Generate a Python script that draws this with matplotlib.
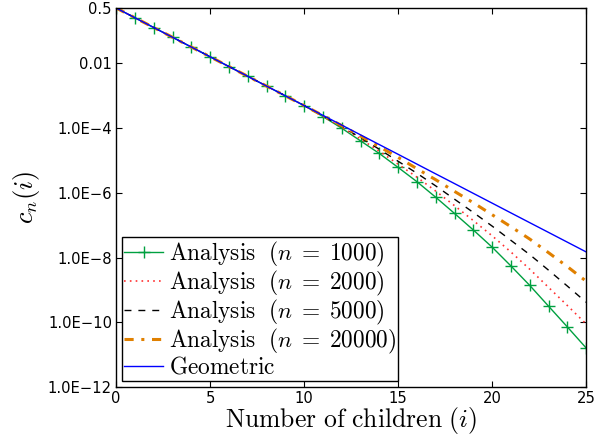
import numpy as np
import matplotlib
matplotlib.use("Agg")
import matplotlib.pyplot as plt

plt.rcParams['mathtext.fontset'] = 'cm'

children = list(range(26))

geometric = [0.5, 0.25, 0.125, 0.0625, 0.03125, 0.015625, 7.81e-3, 3.91e-3,
             1.95e-3, 9.77e-4, 4.88e-4, 2.44e-4, 1.22e-4, 6.10e-5, 3.05e-5,
             1.53e-5, 7.63e-6, 3.81e-6, 1.91e-6, 9.54e-7, 4.77e-7, 2.38e-7,
             1.19e-7, 5.96e-8, 2.98e-8, 1.49e-8]

# log10 values
log_n1000 = [-0.301, -0.602, -0.903, -1.204, -1.505, -1.806, -2.107, -2.408,
             -2.709, -3.010, -3.311, -3.65, -4.01, -4.40, -4.79, -5.22, -5.66,
             -6.14, -6.64, -7.15, -7.68, -8.26, -8.86, -9.50, -10.14, -10.79]
log_n2000 = [-0.301, -0.602, -0.903, -1.204, -1.505, -1.806, -2.107, -2.408,
             -2.709, -3.010, -3.311, -3.64, -3.98, -4.34, -4.72, -5.12, -5.52,
             -5.95, -6.40, -6.86, -7.33, -7.83, -8.36, -8.92, -9.48, -10.05]
log_n5000 = [-0.301, -0.602, -0.903, -1.204, -1.505, -1.806, -2.107, -2.408,
             -2.709, -3.010, -3.311, -3.63, -3.96, -4.30, -4.66, -5.03, -5.40,
             -5.79, -6.20, -6.61, -7.03, -7.47, -7.91, -8.39, -8.88, -9.38]
log_n20000 = [-0.301, -0.602, -0.903, -1.204, -1.505, -1.806, -2.107, -2.408,
              -2.709, -3.010, -3.311, -3.62, -3.93, -4.25, -4.58, -4.91, -5.26,
              -5.60, -5.96, -6.31, -6.68, -7.05, -7.43, -7.85, -8.28, -8.73]

ytick_vals = [1e-12, 1e-10, 1e-8, 1e-6, 1e-4, 1e-2, 0.5]
ytick_labels = ["1.0E\u221212", "1.0E\u221210", "1.0E\u22128", "1.0E\u22126",
                "1.0E\u22124", "0.01", "0.5"]
xtick_vals = [0, 5, 10, 15, 20, 25]

fig = plt.figure(figsize=(6.08, 4.45), dpi=100)
ax = fig.add_axes([0.191, 0.130, 0.773, 0.852])

ax.plot(children, np.power(10.0, log_n1000), color='#00a040', lw=1.0,
        marker='+', markersize=8, mew=1.0,
        label=r'$\mathrm{Analysis}\ \ (n\;=\;1000)$')
ax.plot(children, np.power(10.0, log_n2000), color='#ff3030', lw=1.2,
        linestyle=(0, (1, 2.5)), label=r'$\mathrm{Analysis}\ \ (n\;=\;2000)$')
ax.plot(children, np.power(10.0, log_n5000), color='black', lw=1.0,
        linestyle=(0, (5, 5)), label=r'$\mathrm{Analysis}\ \ (n\;=\;5000)$')
ax.plot(children, np.power(10.0, log_n20000), color='#e08000', lw=2.2,
        linestyle=(0, (3, 2.5, 1, 2.5)), label=r'$\mathrm{Analysis}\ \ (n\;=\;20000)$')
ax.plot(children, geometric, color='#0000ff', lw=1.0,
        label=r'$\mathrm{Geometric}$')

ax.set_yscale('log')
ax.set_xlim(0, 25)
ax.set_ylim(1e-12, 0.5)
ax.set_yticks(ytick_vals)
ax.set_yticklabels(ytick_labels)
ax.minorticks_off()
ax.set_xticks(xtick_vals)
ax.set_xticklabels([str(v) for v in xtick_vals])

for lab in ax.get_xticklabels() + ax.get_yticklabels():
    lab.set_fontfamily('DejaVu Sans')
    lab.set_fontsize(10.6)

ax.tick_params(direction='in', top=True, right=True, length=4, width=0.8, pad=3)
for sp in ax.spines.values():
    sp.set_linewidth(1.0)

ax.set_xlabel(r'$\mathrm{Number\ of\ children\ }(i)$', fontsize=18.5, labelpad=-1)
ax.set_ylabel(r'$c_n(i)$', fontsize=19, labelpad=4)

leg = ax.legend(loc='lower left', fontsize=16.8, frameon=True, fancybox=False,
                edgecolor='black', framealpha=1, borderpad=0.1,
                labelspacing=0.0, handlelength=1.65, handletextpad=0.25,
                borderaxespad=0.25)
leg.get_frame().set_linewidth(1.0)

fig.savefig('out.png', dpi=100)
